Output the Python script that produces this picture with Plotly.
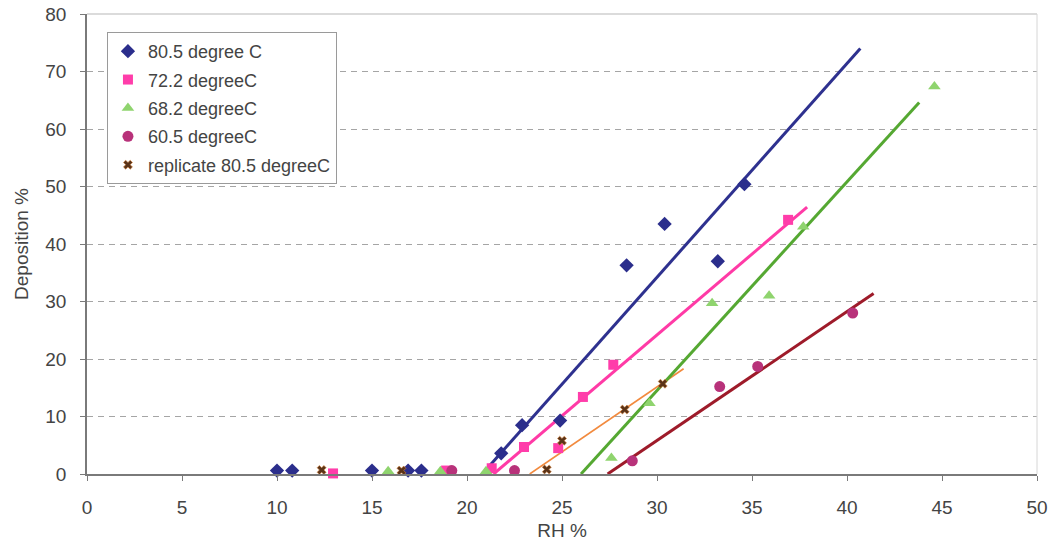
import plotly.graph_objects as go

# Measured deposition (%) versus relative humidity (%) at four temperatures
rh_805 = [10.0, 10.8, 15.0, 16.9, 17.6, 21.8, 22.9, 24.9, 28.4, 30.4, 33.2, 34.6]
dep_805 = [0.6, 0.6, 0.6, 0.6, 0.6, 3.6, 8.5, 9.3, 36.3, 43.5, 37.0, 50.4]

rh_722 = [12.95, 18.9, 21.3, 23.0, 24.8, 26.1, 27.7, 36.9]
dep_722 = [0.1, 0.6, 1.0, 4.7, 4.5, 13.4, 19.0, 44.2]

rh_682 = [15.85, 18.6, 21.0, 27.6, 29.6, 32.9, 35.9, 37.7, 44.6]
dep_682 = [0.5, 0.5, 0.5, 2.8, 12.3, 29.7, 31.0, 43.0, 67.4]

rh_605 = [19.2, 22.5, 28.7, 33.3, 35.3, 40.3]
dep_605 = [0.6, 0.6, 2.3, 15.2, 18.7, 28.0]

rh_rep = [12.35, 16.55, 24.2, 25.0, 28.3, 30.3]
dep_rep = [0.7, 0.6, 0.8, 5.8, 11.2, 15.7]

# Linear trendline end points (RH %, Deposition %)
trend_805 = ([21.2, 40.7], [1.5, 74.0])
trend_722 = ([21.4, 37.9], [0.0, 46.4])
trend_rep = ([23.3, 31.4], [0.0, 18.3])
trend_682 = ([26.0, 43.8], [0.0, 64.6])
trend_605 = ([27.4, 41.4], [0.0, 31.4])

series_names = ["80.5 degree C", "72.2 degreeC", "68.2 degreeC",
                "60.5 degreeC", "replicate 80.5 degreeC"]
x_ticks = [0, 5, 10, 15, 20, 25, 30, 35, 40, 45, 50]
y_ticks = [0, 10, 20, 30, 40, 50, 60, 70, 80]

FONT = "Liberation Sans, Arial, sans-serif"

fig = go.Figure()

# Trendlines first so markers sit on top
for (tx, ty), color, width in [
    (trend_805, "#2E318F", 3),
    (trend_722, "#FF3AA6", 3),
    (trend_rep, "#F28A3E", 1.6),
    (trend_682, "#55A832", 3),
    (trend_605, "#9E1B2A", 3),
]:
    fig.add_trace(go.Scatter(x=tx, y=ty, mode="lines", showlegend=False,
                             line=dict(color=color, width=width),
                             hoverinfo="skip"))

marker_specs = [
    (rh_805, dep_805, series_names[0], dict(symbol="diamond", size=11, color="#2B2E8C")),
    (rh_722, dep_722, series_names[1], dict(symbol="square", size=10, color="#FF3DAA")),
    (rh_682, dep_682, series_names[2], dict(symbol="triangle-up", size=11, color="#8FD46E")),
    (rh_605, dep_605, series_names[3], dict(symbol="circle", size=11, color="#B8327A")),
    (rh_rep, dep_rep, series_names[4], dict(symbol="x", size=8, color="#5A3318",
                                            line=dict(color="#D9873F", width=0.6))),
]
for i, (xs, ys, name, mk) in enumerate(marker_specs):
    fig.add_trace(go.Scatter(x=xs, y=ys, mode="markers", name=name,
                             marker=mk, cliponaxis=False, legendgroup=f"g{i}"))

fig.update_layout(
    width=1055, height=547,
    margin=dict(l=87, r=18, t=14, b=73),
    paper_bgcolor="white", plot_bgcolor="white",
    font=dict(family=FONT, size=19, color="#444444"),
    showlegend=True,
    legend=dict(x=0.021, y=0.961, xanchor="left", yanchor="top",
                bgcolor="white", bordercolor="#9a9a9a", borderwidth=1,
                font=dict(family=FONT, size=18, color="#444444"),
                traceorder="grouped", tracegroupgap=2, itemwidth=30),
    xaxis=dict(range=[0, 50], tickvals=x_ticks, showgrid=False, zeroline=False,
               automargin=False,
               showline=True, linecolor="#7a7a7a", linewidth=1.5,
               ticks="outside", ticklen=5, tickcolor="#7a7a7a",
               ticklabelstandoff=10,
               title=dict(text="RH %", standoff=7,
                          font=dict(family=FONT, size=19, color="#444444"))),
    yaxis=dict(range=[0, 80], tickvals=y_ticks, showgrid=True,
               gridcolor="#a5a5a5", griddash="6px,5px", gridwidth=1, zeroline=False,
               automargin=False,
               showline=True, linecolor="#7a7a7a", linewidth=1.5,
               ticks="outside", ticklen=5, tickcolor="#7a7a7a",
               ticklabelstandoff=10,
               title=dict(text="Deposition %", standoff=12,
                          font=dict(family=FONT, size=19, color="#444444"))),
)

# Light frame on the top and right sides of the plot area
fig.add_shape(type="line", xref="paper", yref="paper", x0=0, x1=1, y0=1, y1=1,
              line=dict(color="#cfcfcf", width=1.5))
fig.add_shape(type="line", xref="paper", yref="paper", x0=1, x1=1, y0=0, y1=1,
              line=dict(color="#d6d6d6", width=1))

fig.write_html("out.html")
